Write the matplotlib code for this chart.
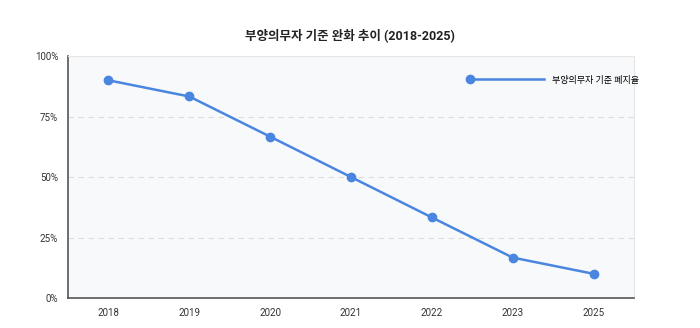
import matplotlib
matplotlib.use("Agg")
import matplotlib.pyplot as plt
from matplotlib.legend_handler import HandlerLine2D
from matplotlib.ticker import FuncFormatter

plt.rcParams['font.family'] = ['Roboto', 'Noto Sans CJK KR', 'DejaVu Sans']

years = ["2018", "2019", "2020", "2021", "2022", "2023", "2025"]
rate = [90, 83.3, 66.7, 50, 33.3, 16.7, 10]
series_name = "부양의무자 기준 폐지율"
title = "부양의무자 기준 완화 추이 (2018-2025)"


class StartMarkerHandler(HandlerLine2D):
    # 범례 선 왼쪽 끝에 마커 표시
    def create_artists(self, *args, **kwargs):
        artists = super().create_artists(*args, **kwargs)
        for a in artists:
            a.set_markevery([0])
        return artists


fig = plt.figure(figsize=(7, 3.28), dpi=100)
ax = fig.add_axes([0.0971, 0.0915, 0.8086, 0.7375])
ax.set_facecolor("#f8f9fb")

x = range(len(years))
line, = ax.plot(x, rate, color="#4a86e0", linewidth=1.8, marker="o",
                markersize=6, label=series_name, zorder=3)

ax.set_xlim(-0.5, len(years) - 0.5)
ax.set_ylim(0, 100)
ax.set_xticks(list(x))
ax.set_xticklabels(years)
ax.set_yticks([0, 25, 50, 75, 100])
ax.yaxis.set_major_formatter(FuncFormatter(lambda v, p: f"{v:.0f}%"))
ax.tick_params(length=0, labelsize=7, colors="#333333", pad=7)

for v in [25, 50, 75]:
    ax.axhline(v, color="#dddddd", linewidth=0.8, linestyle=(0, (5, 4)), zorder=1)

for s in ["top", "right"]:
    ax.spines[s].set_color("#e6e6e6")
    ax.spines[s].set_linewidth(0.8)
for s in ["left", "bottom"]:
    ax.spines[s].set_color("#555555")
    ax.spines[s].set_linewidth(1.2)

fig.text(0.5, 0.893, title, ha="center", va="center", fontsize=9,
         fontweight="bold", color="#222222")

ax.legend(handles=[line], handler_map={line: StartMarkerHandler()},
          loc="center left", bbox_to_anchor=(0.672, 0.756),
          bbox_transform=fig.transFigure, frameon=False, fontsize=6.5,
          handlelength=8.1, handletextpad=0.9, borderpad=0, borderaxespad=0)

plt.savefig("out.png", dpi=100)
